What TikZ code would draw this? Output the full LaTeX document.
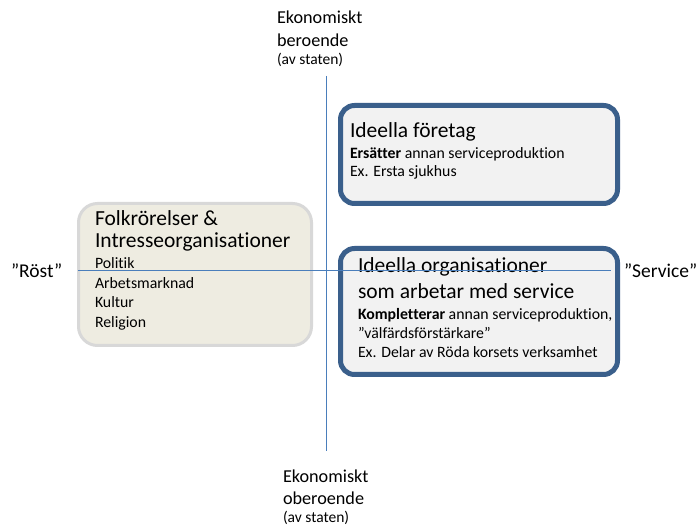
\documentclass[tikz,border=0pt]{standalone}
\usepackage{fontspec}
\setmainfont{Carlito}[Ligatures={NoCommon}]
\begin{document}
\begin{tikzpicture}[x=1pt,y=-1pt,
  bluebox/.style={draw=frameblue,line width=5pt,fill=boxgray,rounded corners=14pt,
    inner sep=0pt,outer sep=0pt},
  tanbox/.style={draw=framegray,line width=3pt,fill=boxtan,rounded corners=19pt,
    inner sep=0pt,outer sep=0pt},
  txt/.style={anchor=base west,inner sep=0pt,outer sep=0pt,text=black},
  big/.style={txt,font=\fontsize{21.5}{21.5}\selectfont},
  small/.style={txt,font=\fontsize{15.8}{15.8}\selectfont},
  axis/.style={txt,font=\fontsize{18.2}{18.2}\selectfont},
  axisnote/.style={txt,font=\fontsize{15.5}{15.5}\selectfont},
  pole/.style={txt,font=\fontsize{19.5}{19.5}\selectfont},
  axisline/.style={draw=lineblue,line width=1pt}
]
\definecolor{frameblue}{HTML}{3A5F8B}
\definecolor{boxgray}{HTML}{F2F2F2}
\definecolor{boxtan}{HTML}{EEECE1}
\definecolor{framegray}{HTML}{D8D8D8}
\definecolor{lineblue}{HTML}{4A7EBB}
\useasboundingbox[fill=white] (0,0) rectangle (696,526);

% boxes
\node[bluebox,minimum width=277pt,minimum height=98pt] (foretag) at (479,154.5) {};
\node[bluebox,minimum width=277pt,minimum height=126pt] (service) at (479,311.5) {};
\node[tanbox,minimum width=233pt,minimum height=142pt] (folk) at (195,274.5) {};

% upper right box
\node[big] (t1) at (350,138) {Ideella företag};
\node[small] (t2) at (350,159) {\textbf{Ersätter} annan serviceproduktion};
\node[small] (t3) at (350,177) {Ex. Ersta sjukhus};

% lower right box
\node[big] (s1) at (358,273) {Ideella organisationer};
\node[big] (s2) at (358,299) {som arbetar med service};
\node[small] (s3) at (358,320) {\textbf{Kompletterar} annan serviceproduktion,};
\node[small] (s4) at (358,339) {”välfärdsförstärkare”};
\node[small] (s5) at (358,358) {Ex. Delar av Röda korsets verksamhet};

% left box
\node[big] (f1) at (95,226) {Folkrörelser \&};
\node[big] (f2) at (95,248) {Intresseorganisationer};
\node[small] (f3) at (95,269) {Politik};
\node[small] (f4) at (95,289) {Arbetsmarknad};
\node[small] (f5) at (95,308) {Kultur};
\node[small] (f6) at (95,328) {Religion};

% axis labels
\node[axis] (top1) at (277,24) {Ekonomiskt};
\node[axis] (top2) at (277,47) {beroende};
\node[axisnote] (top3) at (277,65) {(av staten)};
\node[axis] (bot1) at (283,482) {Ekonomiskt};
\node[axis] (bot2) at (283,504) {oberoende};
\node[axisnote] (bot3) at (283,522) {(av staten)};
\node[pole] (rost) at (11,278) {”Röst”};
\node[pole] (serv) at (624,278) {”Service”};

% axes
\coordinate (vtop) at (326,76);
\coordinate (vbot) at (326,451);
\coordinate (hleft) at (78,271);
\coordinate (hright) at (611,271);
\draw[axisline] (vtop) -- (vbot);
\draw[axisline] (hleft) -- (hright);
\end{tikzpicture}
\end{document}
